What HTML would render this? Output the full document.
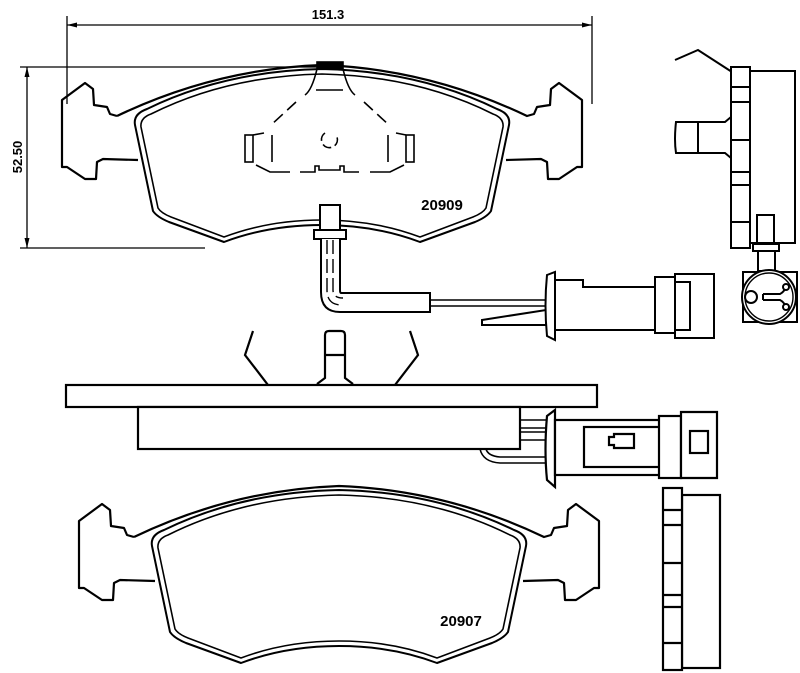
<!DOCTYPE html>
<html><head><meta charset="utf-8"><style>html,body{margin:0;padding:0;background:#fff}svg{display:block}</style></head><body>
<svg width="800" height="673" viewBox="0 0 800 673" xmlns="http://www.w3.org/2000/svg" font-family="Liberation Sans, sans-serif">
<defs>
<g id="pad" fill="none" stroke="#000" stroke-width="2.2" stroke-linejoin="round">
<path d="M122,119 Q220,72 327,68 Q434,72 532,119 L539,117 L542,110 L555,108 L556,92 L564,86 L587,103 L587,170 L582,170 L564,182 L553,182 L552,165 L546,162 L511,163"/>
<path d="M122,119 L115,117 L112,110 L99,108 L98,92 L90,86 L67,103 L67,170 L72,170 L90,182 L101,182 L102,165 L108,162 L143,163"/>
<path d="M140,128 Q138,117 152,112 Q230,74 327,72 Q424,74 502,112 Q516,117 514,128 L496,214 Q492,220 480,225 L425,245 Q380,228 327,228 Q274,228 229,245 L174,225 Q162,220 158,214 Z" stroke-width="2"/>
<path d="M146,130 Q145,121 156,117 Q232,79 327,77 Q422,79 498,117 Q509,121 508,130 L491,211 Q488,216 478,220 L425,240 Q380,223 327,223 Q274,223 229,240 L176,220 Q166,216 163,211 Z" stroke-width="1.6"/>
</g>
</defs>
<g stroke="#000" fill="none" stroke-width="1.3">
<line x1="67" y1="16" x2="67" y2="104"/><line x1="592" y1="16" x2="592" y2="104"/>
<line x1="67" y1="25" x2="592" y2="25"/>
<line x1="20" y1="67" x2="320" y2="67"/><line x1="20" y1="248" x2="205" y2="248"/>
<line x1="27" y1="67" x2="27" y2="248"/>
</g>
<g fill="#000"><path d="M67,25 l10,-2.5 v5z"/><path d="M592,25 l-10,-2.5 v5z"/><path d="M27,67 l-2.5,10 h5z"/><path d="M27,248 l-2.5,-10 h5z"/></g>
<text x="328" y="19" font-size="13" font-weight="bold" text-anchor="middle">151.3</text>
<text x="0" y="0" font-size="13" font-weight="bold" text-anchor="middle" transform="translate(22,157) rotate(-90)">52.50</text>
<use href="#pad" transform="translate(-5,-3)"/>
<use href="#pad" transform="translate(12,418)"/>
<text x="442" y="210" font-size="15" font-weight="bold" text-anchor="middle">20909</text>
<text x="461" y="626" font-size="15" font-weight="bold" text-anchor="middle">20907</text>
<g stroke="#000" fill="none" stroke-width="1.6">
<rect x="317" y="62" width="26" height="7" fill="#000"/>
<path d="M317,69 Q312,90 305,95 M343,69 Q348,90 355,95 M316,90 h27" />
<path d="M296,102 L270,126 M364,102 L390,126" stroke-dasharray="12,6"/>
<path d="M264,133 L253,135 M396,133 L406,135"/>
<rect x="245" y="135" width="8" height="27"/><rect x="406" y="135" width="8" height="27"/>
<path d="M256,165 L270,172 h20 M370,172 h20 L404,165 M300,172 h15 v-6 h4 v4 h21 v-4 h4 v6 h15"/>
<line x1="272" y1="135" x2="272" y2="162"/><line x1="388" y1="135" x2="388" y2="162"/>
<path d="M325,133 A8,8 0 1,0 337,137" stroke-dasharray="9,4"/>
</g>
<g stroke="#000" fill="#fff" stroke-width="2">
<rect x="320" y="205" width="20" height="27"/>
<rect x="314" y="230" width="32" height="9"/>
<path d="M321,239 V292 Q321,312 340,312 H430 V293 H341 Q340,293 340,290 V239" />
<path d="M327,240 V290 Q327,305 342,305 M333,240 V290 Q333,298 343,298" stroke-dasharray="14,5" fill="none" stroke-width="1.4"/>
<path d="M430,300 H547 M430,306 H547" fill="none" stroke-width="1.5"/>
<path d="M482,320 L546,310 L546,325 L482,325 Z"/>
<path d="M547,275 L555,272 V340 L547,336 Q544,305 547,275Z"/>
<path d="M555,280 H583 V287 H655 V330 H555 Z"/>
<rect x="655" y="277" width="20" height="56"/>
<path d="M675,274 H714 V338 H675 Z M675,282 H690 V330 H675"/>
</g>
<g stroke="#000" fill="#fff" stroke-width="2">
<path d="M675,60 L698,50 L732,72" fill="none"/>
<rect x="750" y="71" width="45" height="172"/>
<rect x="731" y="67" width="19" height="181"/>
<path d="M731,87 h19 M731,102 h19 M731,140 h19 M731,172 h19 M731,185 h19 M731,222 h19" />
<path d="M676,122 H725 L731,117 V158 L725,153 H676 Q674,140 676,122Z"/>
<line x1="698" y1="122" x2="698" y2="153"/>
<rect x="757" y="215" width="17" height="28"/>
<rect x="753" y="244" width="26" height="7"/>
<rect x="758" y="251" width="17" height="20"/>
<path d="M743,272 H797 V322 H743 Z" />
<circle cx="769" cy="297" r="27"/>
<circle cx="769" cy="297" r="24" fill="none" stroke-width="1.4"/>
<circle cx="751" cy="297" r="6"/>
<path d="M763,294 H780 Q784,292 786,287 M763,300 H780 Q784,302 786,307 M763,294 V300" fill="none"/>
<circle cx="786" cy="287" r="3"/><circle cx="786" cy="307" r="3"/>
</g>
<g stroke="#000" fill="#fff" stroke-width="2.2">
<path d="M253,331 L245,355 L268,385 M410,331 L418,355 L395,385" fill="none"/>
<path d="M317,384 L325,378 V335 Q325,331 329,331 H341 Q345,331 345,335 V378 L353,384"/>
<line x1="325" y1="355" x2="345" y2="355"/>
<rect x="66" y="385" width="531" height="22"/>
<rect x="138" y="407" width="382" height="42"/>
<path d="M480,449 Q483,462 500,463 H547 M486,449 Q488,456 500,457 H547" fill="none" stroke-width="1.6"/>
<path d="M520,420 H547 M520,428 H547 M520,432 H547 M520,440 H547" stroke-width="1.5"/>
<path d="M547,416 L555,410 V487 L547,480 Q544,450 547,416Z"/>
<rect x="555" y="420" width="105" height="55"/>
<rect x="584" y="427" width="76" height="40"/>
<path d="M609,437 h5 v-3 h20 v14 h-20 v-3 h-5 Z"/>
<rect x="659" y="416" width="22" height="62"/>
<path d="M681,412 H717 V478 H681 Z"/>
<rect x="690" y="431" width="18" height="22"/>
</g>
<g stroke="#000" fill="#fff" stroke-width="2.2">
<rect x="682" y="495" width="38" height="173"/>
<rect x="663" y="488" width="19" height="182"/>
<path d="M663,510 h19 M663,525 h19 M663,563 h19 M663,595 h19 M663,607 h19 M663,643 h19"/>
</g>
</svg>
</body></html>
